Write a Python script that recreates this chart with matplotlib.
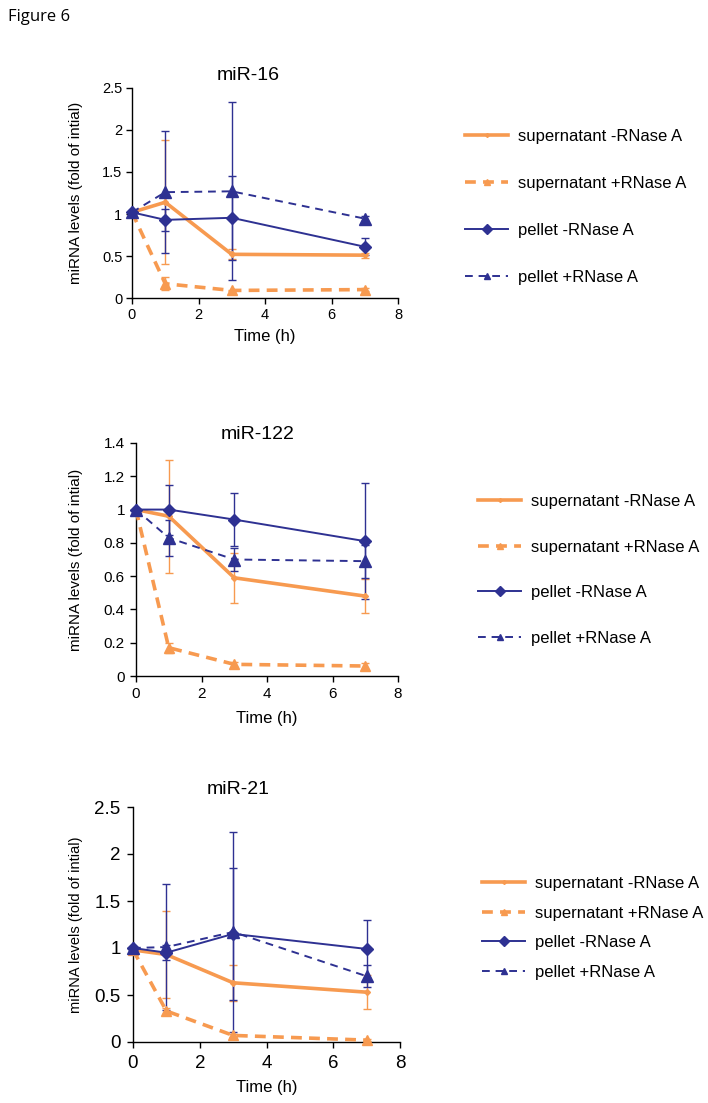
import matplotlib
matplotlib.use("Agg")
import matplotlib.pyplot as plt
import matplotlib.transforms as mtransforms
from matplotlib.lines import Line2D

plt.rcParams['font.family'] = ['Liberation Sans', 'DejaVu Sans']

# time points (h)
time = [0, 1, 3, 7]

# miR-16
mir16_sup_minus = [1.02, 1.14, 0.52, 0.51]
mir16_sup_minus_err = [0, 0.74, 0.06, 0.03]
mir16_sup_plus = [1.02, 0.17, 0.09, 0.10]
mir16_sup_plus_err = [0, 0.08, 0.01, 0.02]
mir16_pel_minus = [1.02, 0.93, 0.955, 0.61]
mir16_pel_minus_err = [0, 0.13, 0.50, 0.10]
mir16_pel_plus = [1.02, 1.26, 1.27, 0.945]
mir16_pel_plus_err = [0, 0.73, 1.06, 0.03]

# miR-122
mir122_sup_minus = [1.0, 0.96, 0.59, 0.48]
mir122_sup_minus_err = [0, 0.34, 0.15, 0.10]
mir122_sup_plus = [1.0, 0.17, 0.07, 0.06]
mir122_sup_plus_err = [0, 0.03, 0.015, 0.02]
mir122_pel_minus = [1.0, 1.0, 0.94, 0.81]
mir122_pel_minus_err = [0, 0.15, 0.16, 0.35]
mir122_pel_plus = [1.0, 0.83, 0.70, 0.69]
mir122_pel_plus_err = [0, 0.11, 0.07, 0.10]

# miR-21
mir21_sup_minus = [0.98, 0.93, 0.63, 0.53]
mir21_sup_minus_err = [0, 0.46, 0.19, 0.18]
mir21_sup_plus = [0.98, 0.33, 0.07, 0.02]
mir21_sup_plus_err = [0, 0.03, 0.02, 0.01]
mir21_pel_minus = [1.0, 0.95, 1.15, 0.99]
mir21_pel_minus_err = [0, 0.08, 0.70, 0.31]
mir21_pel_plus = [1.0, 1.01, 1.17, 0.70]
mir21_pel_plus_err = [0, 0.67, 1.06, 0.12]

labels = ['supernatant -RNase A', 'supernatant +RNase A',
          'pellet -RNase A', 'pellet +RNase A']

orange = '#F79A50'
navy = '#2E3192'

W, H = 708, 1103
fig = plt.figure(figsize=(W / 100, H / 100), dpi=100)


def px_rect(x0, x1, ytop, ybot):
    return [x0 / W, 1 - ybot / H, (x1 - x0) / W, (ybot - ytop) / H]


panels = [
    dict(title='miR-16', rect=px_rect(132, 398, 88, 298), ymax=2.5, ystep=0.5,
         tick_fs=10.5, tick_pad=3, lab_fs=11, xlab_pad=5, title_x=0.436, title_pad=6,
         data=[(mir16_sup_minus, mir16_sup_minus_err), (mir16_sup_plus, mir16_sup_plus_err),
               (mir16_pel_minus, mir16_pel_minus_err), (mir16_pel_plus, mir16_pel_plus_err)],
         leg_x=465, leg_y=207, leg_sp=1.92),
    dict(title='miR-122', rect=px_rect(136, 398, 443, 676), ymax=1.4, ystep=0.2,
         tick_fs=11, tick_pad=4, lab_fs=11, xlab_pad=7, title_x=0.466, title_pad=1,
         data=[(mir122_sup_minus, mir122_sup_minus_err), (mir122_sup_plus, mir122_sup_plus_err),
               (mir122_pel_minus, mir122_pel_minus_err), (mir122_pel_plus, mir122_pel_plus_err)],
         leg_x=478, leg_y=570, leg_sp=1.83),
    dict(title='miR-21', rect=px_rect(133, 400, 807, 1042), ymax=2.5, ystep=0.5,
         tick_fs=13.5, tick_pad=5, lab_fs=10.5, xlab_pad=6, title_x=0.393, title_pad=9,
         data=[(mir21_sup_minus, mir21_sup_minus_err), (mir21_sup_plus, mir21_sup_plus_err),
               (mir21_pel_minus, mir21_pel_minus_err), (mir21_pel_plus, mir21_pel_plus_err)],
         leg_x=482, leg_y=928, leg_sp=0.88),
]

styles = [
    dict(color=orange, ls='-', lw=2.6, marker='D', ms=3),
    dict(color=orange, ls=(0, (3, 2)), lw=2.6, marker='^', ms=7),
    dict(color=navy, ls='-', lw=1.4, marker='D', ms=6),
    dict(color=navy, ls=(0, (4, 3)), lw=1.4, marker='^', ms=8),
]

for p in panels:
    ax = fig.add_axes(p['rect'])
    for (vals, errs), st in zip(p['data'], styles):
        ax.errorbar(time, vals, yerr=errs, fmt='none', ecolor=st['color'],
                    elinewidth=1.0, capsize=3, capthick=1.0, zorder=2, clip_on=False)
        ax.plot(time, vals, color=st['color'], ls=st['ls'], lw=st['lw'],
                marker=st['marker'], ms=st['ms'], mec=st['color'], zorder=3,
                clip_on=False)
    ax.set_xlim(0, 8)
    ax.set_ylim(0, p['ymax'])
    ax.set_xticks([0, 2, 4, 6, 8])
    n = int(round(p['ymax'] / p['ystep']))
    yt = [round(i * p['ystep'], 1) for i in range(n + 1)]
    ax.set_yticks(yt)
    ax.set_yticklabels(['%g' % v for v in yt])
    for s in ['top', 'right']:
        ax.spines[s].set_visible(False)
    ax.spines['left'].set_linewidth(1.0)
    ax.spines['bottom'].set_linewidth(1.0)
    ax.tick_params(axis='both', direction='out', length=4, width=1.0,
                   labelsize=p['tick_fs'], pad=p['tick_pad'])
    ax.set_xlabel('Time (h)', fontsize=12, labelpad=p['xlab_pad'])
    ax.set_ylabel('miRNA levels (fold of intial)', fontsize=p['lab_fs'])
    trans = mtransforms.blended_transform_factory(fig.transFigure, ax.transAxes)
    ax.yaxis.set_label_coords(83 / W, 0.5, transform=trans)
    ax.set_title(p['title'], fontsize=14, x=p['title_x'], pad=p['title_pad'])

    handles = [Line2D([], [], color=st['color'], ls=st['ls'], lw=st['lw'],
                      marker=st['marker'], ms=min(st['ms'], 6) - 1, mec=st['color'])
               for st in styles]
    ax.legend(handles, labels, loc='center left',
              bbox_to_anchor=(p['leg_x'] / W, 1 - p['leg_y'] / H),
              bbox_transform=fig.transFigure, frameon=False, fontsize=12,
              handlelength=2.6, handletextpad=0.6, labelspacing=p['leg_sp'],
              borderpad=0, borderaxespad=0)

fig.text(8 / W, 1 - 17 / H, 'Figure 6', fontsize=12, family=['Open Sans', 'DejaVu Sans'],
         va='center', ha='left')

fig.savefig('out.png', dpi=100)
